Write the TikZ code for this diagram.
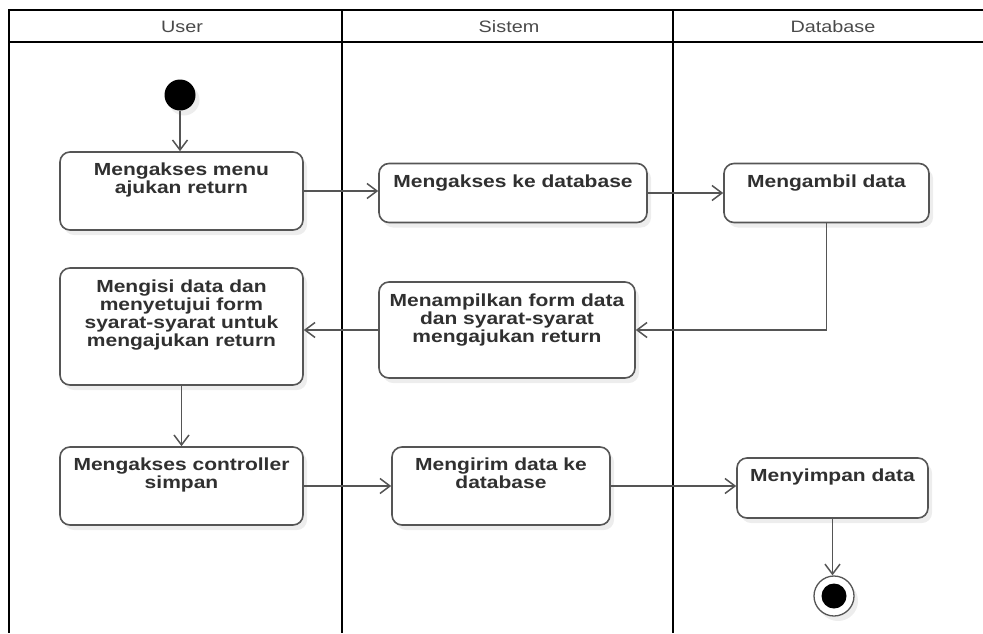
\documentclass[tikz,border=0pt]{standalone}
\usepackage{fontspec}
\setmainfont{Liberation Sans}
\newfontfamily\actfont[FakeStretch=1.2]{Liberation Sans}
\usetikzlibrary{arrows.meta,shadows,calc}
\definecolor{edgegray}{HTML}{555555}
\definecolor{inkgray}{HTML}{303030}
\definecolor{headgray}{HTML}{4a4a4a}
\begin{document}
\begin{tikzpicture}[x=1pt,y=-1pt,
  lane/.style={line width=2.6pt, draw=black},
  softshadow/.style={drop shadow={shadow xshift=4pt, shadow yshift=-5pt, fill=black!14}},
  act/.style={draw=edgegray, line width=1.6pt, rounded corners=10pt, fill=white, softshadow},
  acttext/.style={font=\actfont\bfseries\fontsize{17.5}{18}\selectfont, text=inkgray, align=center, inner sep=0pt, anchor=north},
  head/.style={font=\actfont\fontsize{16.5}{18}\selectfont, text=headgray},
  flow/.style={draw=edgegray, line width=1.6pt, -{Straight Barb[length=10pt,width=15pt,line width=1.5pt]}},
]
\useasboundingbox (0,0) rectangle (983,633);

% swimlanes
\draw[lane] (983,10) -- (9,10) -- (9,633);
\draw[lane] (9,42) -- (983,42);
\draw[lane] (342,10) -- (342,633);
\draw[lane] (673,10) -- (673,633);
\node[head] (hUser) at (182,27) {User};
\node[head] (hSistem) at (509,27) {Sistem};
\node[head] (hDb) at (833,27) {Database};

% initial and final nodes
\node[circle, fill=black, minimum size=31pt, inner sep=0pt, softshadow] (start) at (180,95) {};
\node[circle, draw=edgegray, line width=1.3pt, fill=white, minimum size=40pt, inner sep=0pt, softshadow] (end) at (834,596) {};
\node[circle, fill=black, minimum size=25pt, inner sep=0pt] (endDot) at (end) {};

% actions
\node[act, minimum width=243pt, minimum height=78pt] (b1) at (181.5,191) {};
\node[acttext] (t1) at ($(b1.north)+(0,11.5)$) {Mengakses menu\\ajukan return};

\node[act, minimum width=268pt, minimum height=59pt] (b2) at (513,193) {};
\node[acttext] (t2) at ($(b2.north)+(0,11.5)$) {Mengakses ke database};

\node[act, minimum width=205pt, minimum height=59pt] (b3) at (826.5,193) {};
\node[acttext] (t3) at ($(b3.north)+(0,11.5)$) {Mengambil data};

\node[act, minimum width=243pt, minimum height=117pt] (b4) at (181.5,326.5) {};
\node[acttext] (t4) at ($(b4.north)+(0,12.5)$) {Mengisi data dan\\menyetujui form\\syarat-syarat untuk\\mengajukan return};

\node[act, minimum width=256pt, minimum height=96pt] (b5) at (507,330) {};
\node[acttext] (t5) at ($(b5.north)+(0,12.5)$) {Menampilkan form data\\dan syarat-syarat\\mengajukan return};

\node[act, minimum width=243pt, minimum height=78pt] (b6) at (181.5,486) {};
\node[acttext] (t6) at ($(b6.north)+(0,11.5)$) {Mengakses controller\\simpan};

\node[act, minimum width=218pt, minimum height=78pt] (b7) at (501,486) {};
\node[acttext] (t7) at ($(b7.north)+(0,11.5)$) {Mengirim data ke\\database};

\node[act, minimum width=191pt, minimum height=60pt] (b8) at (832.5,488) {};
\node[acttext] (t8) at ($(b8.north)+(0,11)$) {Menyimpan data};

% control flow
\draw[flow] (start) -- (start |- b1.north);
\draw[flow] (b1.east) -- (b1.east -| b2.west);
\draw[flow] (b2.east) -- (b3.west);
\draw[flow] (b3.south) |- (b5.east);
\draw[flow] (b5.west) -- (b5.west -| b4.east);
\draw[flow] (b4.south) -- (b6.north);
\draw[flow] (b6.east) -- (b7.west);
\draw[flow] (b7.east) -- (b7.east -| b8.west);
\draw[flow] (b8.south) -- (b8.south |- end.north);
\end{tikzpicture}
\end{document}
